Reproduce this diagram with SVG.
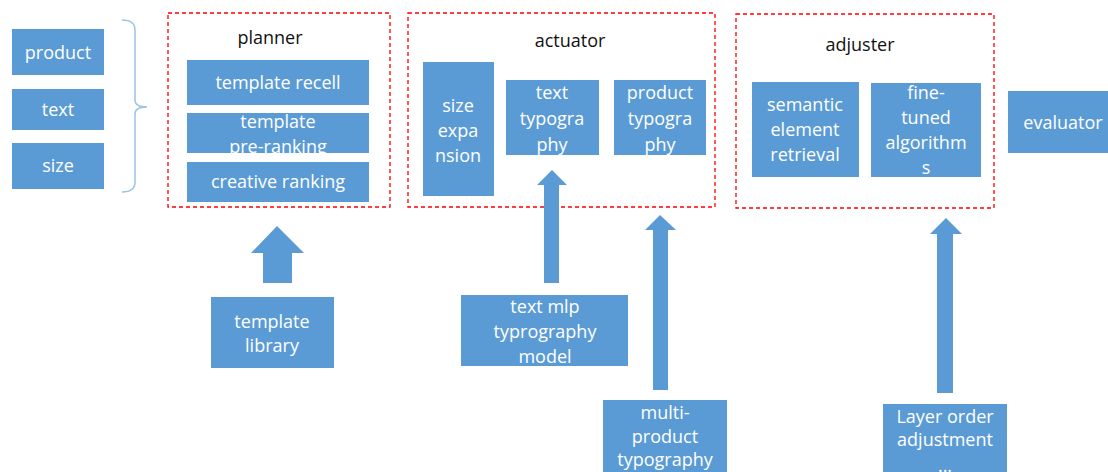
<svg xmlns="http://www.w3.org/2000/svg" width="1108" height="472" viewBox="0 0 1108 472">
<style>
.b{fill:#5B9BD5}
.t{font-family:"Open Sans","Liberation Sans",sans-serif;font-size:18px;fill:#fff;text-anchor:middle}
.h{font-family:"Open Sans","Liberation Sans",sans-serif;font-size:18px;fill:#111;text-anchor:middle}
.g{fill:none;stroke:#FF0000;stroke-width:1.3;stroke-dasharray:4 3}
.a{fill:#5B9BD5}
</style>
<rect width="1108" height="472" fill="#fff"/>
<g id="groups">
<rect id="planner-box" class="g" x="168" y="13" width="222" height="194"/>
<text class="h" x="270" y="44">planner</text>
<rect id="actuator-box" class="g" x="408" y="13" width="307" height="194"/>
<text class="h" x="570" y="47">actuator</text>
<rect id="adjuster-box" class="g" x="736" y="14" width="258" height="194"/>
<text class="h" x="860" y="51">adjuster</text>
</g>
<g id="brace">
<path d="M122,20 Q135,20 135,30 L135,100 Q135,107 147,107 Q135,107 135,114 L135,182 Q135,192 122,192" fill="none" stroke="#9DC3E6" stroke-width="1.5"/>
</g>
<g id="product"><rect class="b" x="12" y="29" width="92" height="46"/><text class="t" x="58" y="59">product</text></g>
<g id="text"><rect class="b" x="12" y="89" width="92" height="41"/><text class="t" x="58" y="116">text</text></g>
<g id="size"><rect class="b" x="12" y="143" width="92" height="46"/><text class="t" x="58" y="172">size</text></g>
<g id="template-recell"><rect class="b" x="187" y="60" width="182" height="45"/><text class="t" x="278" y="89">template recell</text></g>
<g id="template-pre-ranking"><rect class="b" x="187" y="113" width="182" height="40"/><text class="t" x="278" y="128">template</text><text class="t" x="278" y="153">pre-ranking</text></g>
<g id="creative-ranking"><rect class="b" x="187" y="162" width="182" height="40"/><text class="t" x="278" y="188">creative ranking</text></g>
<g id="size-expansion"><rect class="b" x="423" y="62" width="71" height="134"/><text class="t" x="458" y="112">size</text><text class="t" x="458" y="137">expa</text><text class="t" x="458" y="162">nsion</text></g>
<g id="text-typography"><rect class="b" x="506" y="80" width="93" height="75"/><text class="t" x="552" y="99">text</text><text class="t" x="552" y="125">typogra</text><text class="t" x="552" y="151">phy</text></g>
<g id="product-typography"><rect class="b" x="614" y="80" width="92" height="75"/><text class="t" x="660" y="99">product</text><text class="t" x="660" y="125">typogra</text><text class="t" x="660" y="151">phy</text></g>
<g id="semantic-element-retrieval"><rect class="b" x="752" y="82" width="107" height="95"/><text class="t" x="805" y="111">semantic</text><text class="t" x="805" y="136">element</text><text class="t" x="805" y="161">retrieval</text></g>
<g id="fine-tuned-algorithms"><rect class="b" x="871" y="83" width="110" height="94"/><text class="t" x="926" y="99">fine-</text><text class="t" x="926" y="124">tuned</text><text class="t" x="926" y="149">algorithm</text><text class="t" x="926" y="174">s</text></g>
<g id="evaluator"><rect class="b" x="1008" y="91" width="110" height="62"/><text class="t" x="1063" y="129">evaluator</text></g>
<g id="template-library"><rect class="b" x="211" y="297" width="123" height="71"/><text class="t" x="272" y="328">template</text><text class="t" x="272" y="352">library</text></g>
<g id="text-mlp-typrography-model"><rect class="b" x="461" y="295" width="167" height="71"/><text class="t" x="545" y="313">text mlp</text><text class="t" x="545" y="338">typrography</text><text class="t" x="545" y="363">model</text></g>
<g id="multi-product-typography"><rect class="b" x="603" y="400" width="124" height="80"/><text class="t" x="665" y="419">multi-</text><text class="t" x="665" y="443">product</text><text class="t" x="665" y="466">typography</text></g>
<g id="layer-order-adjustment"><rect class="b" x="883" y="404" width="124" height="76"/><text class="t" x="945" y="423">Layer order</text><text class="t" x="945" y="446">adjustment</text><text class="t" x="945" y="472">...</text></g>
<g id="connectors">
<polygon class="a" points="263,283 292,283 292,253 304,253 277,226 251,253 263,253"/>
<polygon class="a" points="544,283 559,283 559,185 567,185 552,170 537,185 544,185"/>
<polygon class="a" points="653,390 668,390 668,230 676,230 660,215 645,230 653,230"/>
<polygon class="a" points="937,393 953,393 953,234 962,234 946,218 930,234 937,234"/>
</g>
</svg>
